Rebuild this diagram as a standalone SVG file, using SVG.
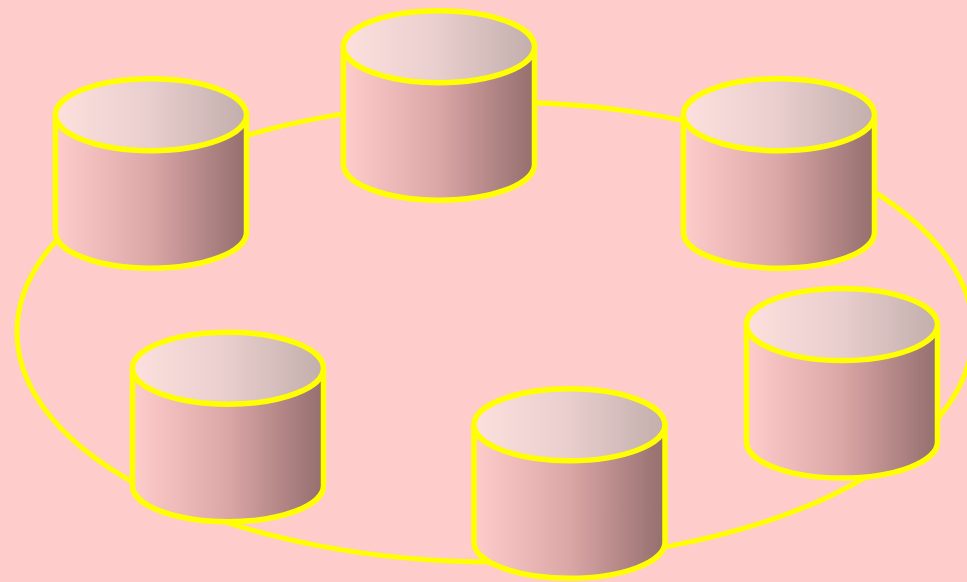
<svg xmlns="http://www.w3.org/2000/svg" width="967" height="582" viewBox="0 0 967 582">
<style>
.s{stroke:#ffff00;stroke-width:5.500;stroke-linejoin:round;}
.b{fill:url(#body);}
.t{fill:url(#top);}
#connectors ellipse{fill:none;stroke-width:5;}
</style>
<defs>
<linearGradient id="body"><stop offset="0" stop-color="#ffcccc"/><stop offset="0.5" stop-color="#dba6a6"/><stop offset="1" stop-color="#946e6e"/></linearGradient>
<linearGradient id="top"><stop offset="0" stop-color="#fde0de"/><stop offset="0.5" stop-color="#e8cecd"/><stop offset="1" stop-color="#c2aeac"/></linearGradient>
<g id="cyl">
<path class="s b" d="M-95.500 0V117.500A95.500 36 0 0 0 95.500 117.500V0Z"/>
<ellipse class="s t" cx="0" cy="0" rx="95.500" ry="36"/>
</g>
</defs>
<rect width="967" height="582" fill="#ffcccc"/>
<g id="connectors"><ellipse class="s" cx="495" cy="332" rx="478" ry="230"/></g>
<g id="node1"><use href="#cyl" x="439" y="46.700"/></g>
<g id="node2"><use href="#cyl" x="151" y="114.700"/></g>
<g id="node3"><use href="#cyl" x="779" y="114.700"/></g>
<g id="node4"><use href="#cyl" x="842" y="324.500"/></g>
<g id="node5"><use href="#cyl" x="569.500" y="424.800"/></g>
<g id="node6"><use href="#cyl" x="228" y="368.200"/></g>
</svg>
